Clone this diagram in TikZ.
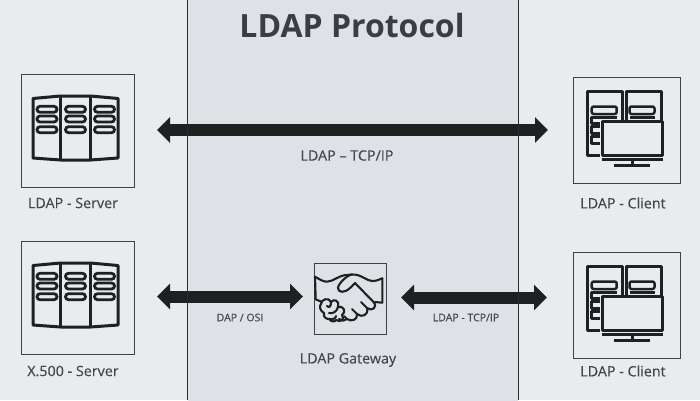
\documentclass[tikz,border=0pt]{standalone}
\usepackage{fontspec}
\setmainfont{Open Sans}
\newfontfamily\medfont[FakeBold=0.25]{Open Sans}
\usetikzlibrary{arrows.meta}
\definecolor{bgc}{HTML}{E9EBEF}
\definecolor{midc}{HTML}{DFE1E6}
\definecolor{ink}{HTML}{1E2022}
\definecolor{txt}{HTML}{43474C}
\definecolor{framec}{HTML}{2A2C2F}
\definecolor{titlec}{HTML}{3A3D41}
\tikzset{
  x=1pt,y=-1pt,
  iconbox/.style={draw=ink!85,line width=1.1pt,fill=none,inner sep=0,anchor=north west},
  lbl/.style={text=txt,font=\medfont\fontsize{14.3}{16}\selectfont,inner sep=0},
  smalllbl/.style={text=txt,font=\medfont\fontsize{10.5}{12}\selectfont,inner sep=0},
  bigarrow/.style={draw=ink,line width=12pt,{Triangle[length=13pt,width=25pt]}-{Triangle[length=13pt,width=25pt]}},
  ic/.style={draw=ink,line width=3pt,line join=round},
  pill/.style={draw=ink,line width=2.8pt,rounded corners=3pt},
  thinp/.style={draw=ink,line width=2.5pt,line join=round},
  servericon/.pic={
    \draw[ic] (12.5,24.5) -- (40,22) -- (70,22) -- (97.5,24.5) -- (97.5,84) -- (70,86) -- (40,86) -- (12.5,84) -- cycle;
    \draw[ic,line width=3.4pt] (40,22) -- (40,86) (70,22) -- (70,86);
    \foreach \cx in {26.5,55,84}\foreach \cy in {35.3,45,55.7}
      \draw[pill] (\cx-10,\cy-3) rectangle (\cx+10,\cy+3);
  },
  clienticon/.pic={
    \draw[ic] (27,78) -- (14,78) -- (14,14) -- (49,14) -- (49,44);
    \draw[ic] (53,44) -- (53,14) -- (88,14) -- (88,44);
    \draw[thinp,rounded corners=2pt] (18.7,29.5) rectangle (43.7,37);
    \draw[thinp] (43.7,40.5) -- (18.7,40.5) -- (18.7,46.5) -- (27,46.5);
    \draw[thinp,rounded corners=2pt] (56.5,29.5) rectangle (81.5,37);
    \draw[thinp] (56.5,40.5) -- (81.5,40.5);
    \draw[thinp] (27,49.7) -- (18.7,49.7) -- (18.7,56.3) -- (27,56.3);
    \draw[thinp] (27,59.7) -- (18.7,59.7) -- (18.7,66.3) -- (27,66.3);
    \draw[ic] (29,44.5) rectangle (89.5,78);
    \draw[ic] (29,82) -- (90,82);
    \draw[ink,line width=3.5pt] (59.5,82) -- (59.5,88);
    \draw[ic] (41,88) -- (77,88);
  },
}
\begin{document}
\begin{tikzpicture}
\useasboundingbox (0,0) rectangle (700,400);
\fill[bgc] (0,0) rectangle (700,400);
\fill[midc] (187.5,-1) rectangle (518,401);

\node[text=titlec,font=\fontsize{32}{36}\bfseries\selectfont,inner sep=0] (title) at (352,25) {LDAP Protocol};

% boxes
\node[iconbox,minimum width=113pt,minimum height=113pt] (srv1) at (20.5,74) {};
\node[iconbox,minimum width=113pt,minimum height=113pt] (srv2) at (20.5,241) {};
\node[iconbox,minimum width=107pt,minimum height=106pt] (cli1) at (573,77) {};
\node[iconbox,minimum width=107pt,minimum height=106pt] (cli2) at (573,252) {};
\node[iconbox,minimum width=72pt,minimum height=71pt] (gw) at (314,263) {};

\pic at (srv1.north west) {servericon};
\pic at (srv2.north west) {servericon};
\pic at (cli1.north west) {clienticon};
\pic at (cli2.north west) {clienticon};

% handshake
\begin{scope}[draw=ink,line width=2.1pt,line cap=round,line join=round]
  \draw (315,276.7) .. controls (319,279) and (323,281.7) .. (327,281.7) .. controls (333,281.7) and (339,275) .. (347,275) -- (352,274.5);
  \draw (382.3,278.3) .. controls (379,280) and (376,281) .. (372,281) .. controls (367,281) and (361,274) .. (352,274.5) .. controls (347,275) and (338,284) .. (338,288) .. controls (338,293) and (345,293) .. (350,288) -- (355,283) -- (373.5,302) .. controls (378,307) and (372,312) .. (367,308) -- (361,302);
  \draw (367,308) .. controls (369,315) and (362,318) .. (357,314) -- (352,309);
  \draw (357,314) .. controls (358,320) and (351,322) .. (347,319) -- (344,316);
  \draw (347,319) .. controls (345,321) and (342,321) .. (339,319);
  \draw (315,276.7) -- (315.7,299.3) -- (322,302);
  \draw (382.3,278.3) -- (382.3,302.7) -- (375,302);
  \draw (321,304) .. controls (321,299) and (329,297) .. (331,302) .. controls (334,298) and (340,301) .. (338,307) .. controls (343,305) and (347,312) .. (342,315) .. controls (345,319) and (341,323) .. (336,320) .. controls (335,322) and (331,322) .. (329,319) .. controls (326,319) and (323,317) .. (324,313) .. controls (320,311) and (319,306) .. (321,304) -- cycle;
  \draw (327,306) .. controls (329,308) and (331,307) .. (331,302);
  \draw (329,313) .. controls (332,314) and (337,312) .. (338,307);
  \draw (329,319) .. controls (333,320) and (336,318) .. (336,316);
\end{scope}

% arrows
\coordinate (a1l) at (157,130);
\coordinate (a1r) at (548,130);
\coordinate (a2l) at (157,296.5);
\coordinate (a2r) at (303,296.5);
\coordinate (a3l) at (401,297.5);
\coordinate (a3r) at (547,297.5);
\draw[bigarrow] (a1l) -- (a1r);
\draw[bigarrow] (a2l) -- (a2r);
\draw[bigarrow] (a3l) -- (a3r);

% panel rules pass over the arrows
\draw[framec,line width=1pt] (187.5,0) -- (187.5,400) (518,0) -- (518,400);

% labels
\node[lbl] (l1) at (347,155.5) {LDAP – TCP/IP};
\node[lbl] (l2) at (73,203) {LDAP - Server};
\node[lbl] (l3) at (73,371) {X.500 - Server};
\node[lbl] (l4) at (623,203) {LDAP - Client};
\node[lbl] (l5) at (623,371) {LDAP - Client};
\node[lbl] (l6) at (348,360) {LDAP Gateway};
\node[smalllbl] (l7) at (240,317.5) {DAP / OSI};
\node[smalllbl] (l8) at (466,317.5) {LDAP - TCP/IP};
\end{tikzpicture}
\end{document}
